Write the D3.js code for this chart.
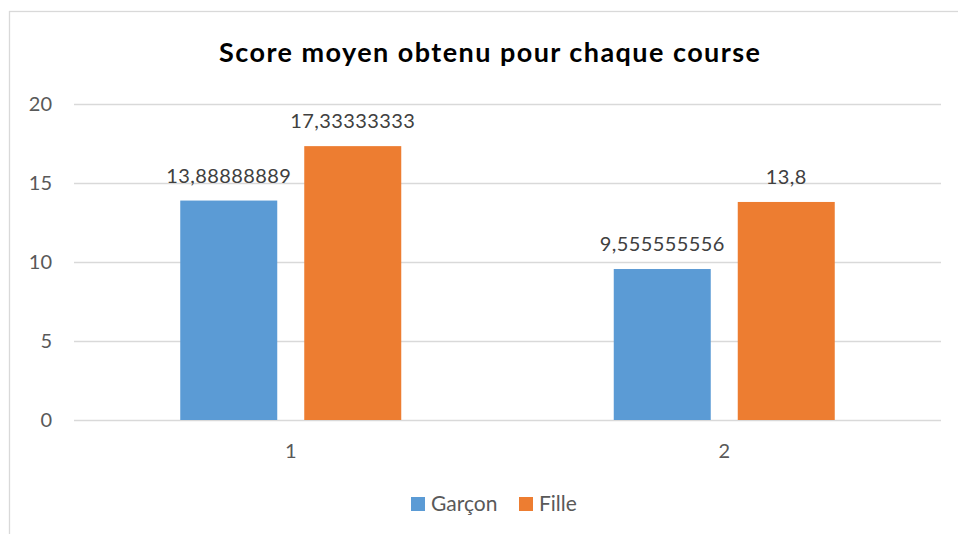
<!DOCTYPE html>
<html><head><meta charset="utf-8">
<script src="https://cdn.jsdelivr.net/npm/d3@7"></script>
<style>body{margin:0;background:#fff}svg{display:block}text{font-family:Lato,"Open Sans",sans-serif}</style>
</head><body><svg id="c" width="958" height="534"></svg>
<script>
const title = "Score moyen obtenu pour chaque course";
const categories = ["1", "2"];
const seriesNames = ["Garçon", "Fille"];
const garcon = [13.88888889, 9.555555556];
const fille = [17.33333333, 13.8];
const garconLabels = ["13,88888889", "9,555555556"];
const filleLabels = ["17,33333333", "13,8"];
const yTicks = [0, 5, 10, 15, 20];
const colors = ["#5B9BD5", "#ED7D31"];

(function(){
const svg = d3.select("#c");
svg.append("rect").attr("x", 9.5).attr("y", 11.5).attr("width", 960).attr("height", 540)
  .attr("fill", "#fff").attr("stroke", "#D9D9D9").attr("stroke-width", 1.3);

const pLeft = 74, pRight = 941, pTop = 104, pBottom = 420;
const y = d3.scaleLinear().domain([0, 20]).range([pBottom, pTop]);
const x0 = d3.scaleBand().domain(categories).range([pLeft, pRight]).paddingInner(0).paddingOuter(0);
const groupW = 221;
const x1 = d3.scaleBand().domain(seriesNames).range([0, groupW]).paddingInner(27 / 124).paddingOuter(0);

const yAxis = d3.axisLeft(y).tickValues(yTicks).tickSize(-(pRight - pLeft)).tickPadding(22);
const ga = svg.append("g").attr("transform", `translate(${pLeft},0)`).call(yAxis);
ga.select(".domain").remove();
ga.selectAll(".tick line").attr("stroke", "#D9D9D9").attr("stroke-width", 1.3);
ga.selectAll(".tick text").attr("fill", "#595959").style("font-size", "20px").attr("dy", "0.34em");

const xAxis = d3.axisBottom(x0).tickSize(0).tickPadding(23.5);
const gx = svg.append("g").attr("transform", `translate(0,${pBottom})`).call(xAxis);
gx.select(".domain").remove();
gx.selectAll(".tick text").attr("fill", "#595959").style("font-size", "20px");

const series = [garcon, fille];
const labels = [garconLabels, filleLabels];
series.forEach((vals, si) => {
  const g = svg.append("g");
  categories.forEach((c, ci) => {
    const gx0 = x0(c) + (x0.bandwidth() - groupW) / 2;
    const bx = gx0 + x1(seriesNames[si]);
    g.append("rect").attr("x", bx).attr("y", y(vals[ci])).attr("width", x1.bandwidth())
      .attr("height", y(0) - y(vals[ci])).attr("fill", colors[si]);
    g.append("text").attr("x", bx + x1.bandwidth() / 2).attr("y", y(vals[ci]) - 18)
      .attr("text-anchor", "middle").attr("fill", "#404040").style("font-size", "20px")
      .style("letter-spacing", "0.4px")
      .text(labels[si][ci]);
  });
});

svg.append("text").attr("x", 489.5).attr("y", 61.5).attr("text-anchor", "middle")
  .attr("fill", "#000").style("font-size", "27px").style("font-weight", "bold")
  .attr("textLength", 541).attr("lengthAdjust", "spacing").text(title);

const legend = svg.append("g");
const legItems = [{x: 411, tx: 431}, {x: 519, tx: 539}];
seriesNames.forEach((n, i) => {
  legend.append("rect").attr("x", legItems[i].x).attr("y", 497).attr("width", 14).attr("height", 14).attr("fill", colors[i]);
  legend.append("text").attr("x", legItems[i].tx).attr("y", 511).attr("fill", "#595959").style("font-size", "21px").text(n);
});
})();
</script></body></html>
